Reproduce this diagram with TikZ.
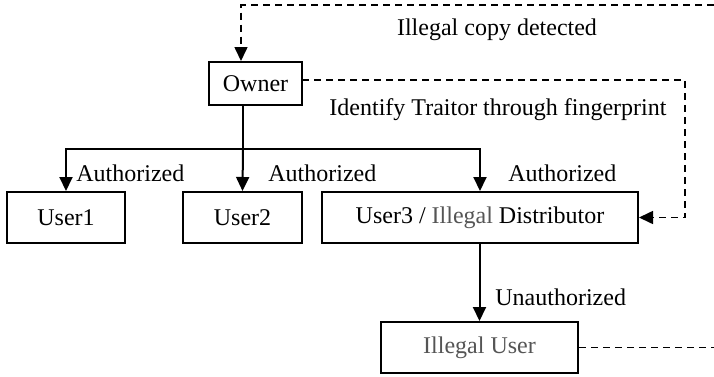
\documentclass[tikz,border=0pt]{standalone}
\usepackage{fontspec}
\setmainfont{Liberation Serif}
\usetikzlibrary{arrows.meta}
\definecolor{illegalgray}{HTML}{555555}
\begin{document}
\begin{tikzpicture}[x=0.5pt,y=-0.5pt,
  font=\fontsize{12}{14}\selectfont,
  box/.style={draw=black,line width=1pt,minimum height=25.5pt,inner sep=0pt},
  arr/.style={line width=1pt,-{Triangle[width=6.5pt,length=7pt]}},
  solid line/.style={line width=1pt},
  dashline/.style={line width=0.8pt,dash pattern=on 3.5pt off 2.5pt},
  dasharr/.style={dashline,-{Triangle[width=6.5pt,length=7pt]}},
  lbl/.style={inner sep=0pt,anchor=west}]
\useasboundingbox (0,0) rectangle (714,376);

% boxes
\node[box,minimum width=46.5pt,minimum height=21.5pt] (owner) at (255.5,83.5) {Owner};
\node[box,minimum width=59pt] (u1) at (66,217.5) {User1};
\node[box,minimum width=59.5pt] (u2) at (242.5,217.5) {User2};
\node[box,minimum width=158pt] (u3) at (480,217.5) {User3 / \textcolor{illegalgray}{Illegal} Distributor};
\node[box,minimum width=98.5pt] (ill) at (479.5,347.5) {\textcolor{illegalgray}{Illegal User}};

% distribution from the owner
\coordinate (bus) at (243,149);
\draw[solid line] (owner.south -| bus) -- (bus);
\draw[arr] (bus) -| (u1.north);
\draw[arr] (bus) -- (u2.north);
\draw[arr] (bus) -| (u3.north);
\draw[arr] (u3.south -| ill.north) -- (ill.north);

% feedback loops
\coordinate (tr) at (715,5);
\coordinate (tl) at (241,5);
\draw[dasharr] (ill.east) -| (tr) -- (tl) -- (tl |- owner.north);
\coordinate (ownerout) at (302,80);
\coordinate (rd) at (685,80);
\draw[dasharr] (ownerout) -- (rd) |- (u3.east);

% labels
\node[lbl] (a1) at (76,173) {Authorized};
\node[lbl] (a2) at (268,173) {Authorized};
\node[lbl] (a3) at (508,173) {Authorized};
\node[lbl] (un) at (495,297) {Unauthorized};
\node (copy) at (497,30) {Illegal copy detected};
\node (trait) at (498,110) {Identify Traitor through fingerprint};
\end{tikzpicture}
\end{document}
